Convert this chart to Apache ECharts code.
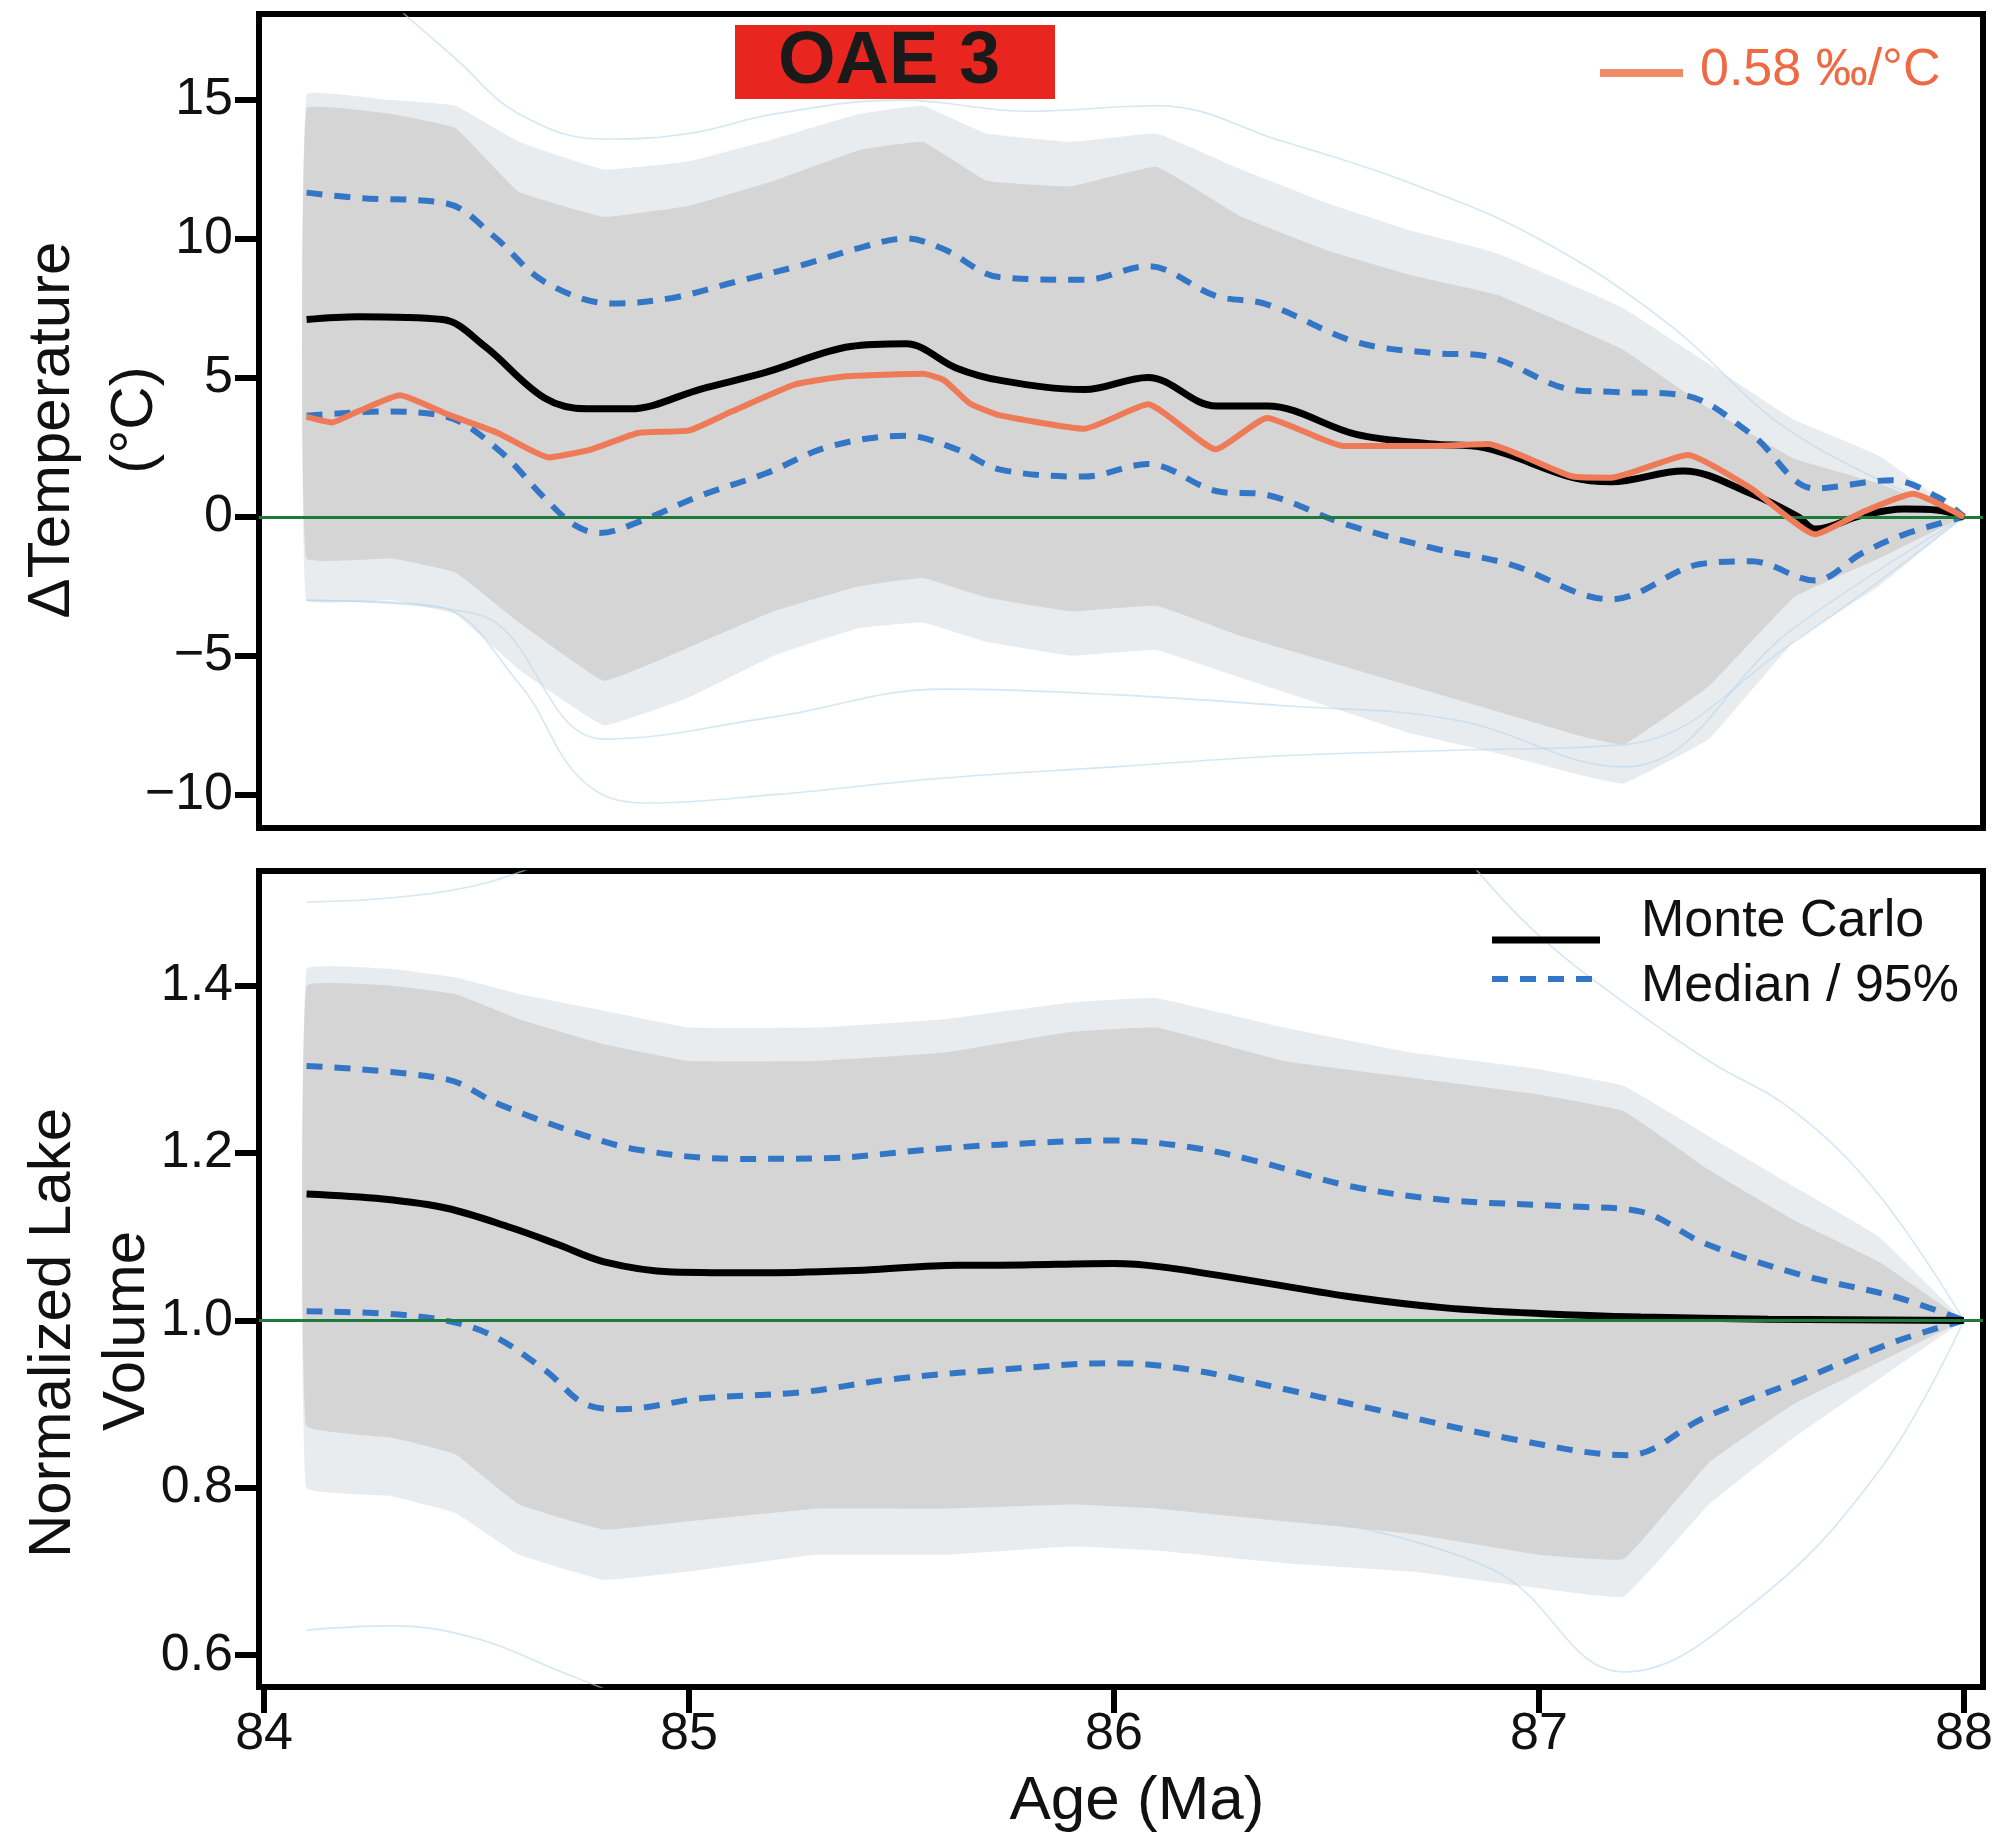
<!DOCTYPE html>
<html>
<head>
<meta charset="utf-8">
<script src="https://cdn.jsdelivr.net/npm/echarts@6/dist/echarts.min.js"></script>
<style>html,body{margin:0;padding:0;background:#fff}#c{width:1997px;height:1844px}</style>
</head>
<body>
<div id="c"></div>
<script>
// ---------- tick labels ----------
const ageTicks = [84, 85, 86, 87, 88];
const tempTicks = [-10, -5, 0, 5, 10, 15];
const volTicks = [0.6, 0.8, 1.0, 1.2, 1.4];

// ---------- top panel: ΔTemperature ----------
const tempMCAge = [84.1, 84.22, 84.42, 84.52, 84.66, 84.76, 84.86, 85.03, 85.18, 85.38, 85.51, 85.63, 85.73, 85.93, 86.08, 86.24, 86.36, 86.57, 86.75, 86.87, 87.08, 87.17, 87.34, 87.5, 87.61, 87.65, 87.76, 87.86, 87.94, 88.0];
const tempMC = [7.1, 7.2, 7.1, 6.13, 4.28, 3.89, 3.89, 4.61, 5.2, 6.13, 6.23, 5.35, 4.92, 4.58, 5.02, 3.99, 3.99, 2.97, 2.62, 2.49, 1.41, 1.26, 1.65, 0.83, 0.0, -0.44, 0.05, 0.28, 0.24, 0.0];

const temp058Age = [84.1, 84.16, 84.22, 84.32, 84.43, 84.55, 84.67, 84.77, 84.88, 85.0, 85.1, 85.25, 85.37, 85.55, 85.6, 85.66, 85.73, 85.93, 86.08, 86.24, 86.36, 86.54, 86.75, 86.88, 87.08, 87.17, 87.35, 87.5, 87.65, 87.76, 87.88, 88.0];
const temp058 = [3.6, 3.4, 3.79, 4.38, 3.7, 3.02, 2.14, 2.43, 3.02, 3.11, 3.79, 4.77, 5.06, 5.15, 4.92, 4.09, 3.66, 3.17, 4.05, 2.43, 3.56, 2.55, 2.55, 2.62, 1.45, 1.41, 2.23, 1.02, -0.63, 0.16, 0.83, 0.0];

const tempHiAge = [84.1, 84.22, 84.43, 84.54, 84.66, 84.82, 84.96, 85.11, 85.26, 85.41, 85.51, 85.6, 85.73, 85.93, 86.08, 86.24, 86.36, 86.57, 86.75, 86.87, 87.08, 87.17, 87.34, 87.5, 87.65, 87.83, 87.94, 88.0];
const tempHi = [11.67, 11.48, 11.28, 10.11, 8.46, 7.68, 7.88, 8.46, 9.04, 9.72, 10.02, 9.63, 8.63, 8.53, 9.02, 7.95, 7.65, 6.29, 5.9, 5.8, 4.57, 4.5, 4.38, 2.97, 1.02, 1.32, 0.7, 0.0];

const tempLoAge = [84.1, 84.28, 84.43, 84.55, 84.66, 84.73, 84.79, 84.88, 85.03, 85.18, 85.33, 85.51, 85.63, 85.73, 85.93, 86.08, 86.24, 86.36, 86.54, 86.75, 86.93, 87.17, 87.38, 87.5, 87.65, 87.76, 87.86, 88.0];
const tempLo = [3.64, 3.79, 3.6, 2.43, 0.68, -0.29, -0.58, -0.19, 0.78, 1.56, 2.53, 2.92, 2.43, 1.71, 1.45, 1.9, 0.93, 0.79, -0.24, -1.12, -1.7, -2.97, -1.7, -1.6, -2.29, -1.31, -0.63, 0.0];

// Monte Carlo ensemble: dense core and sparse outer envelope
const tempBandAge = [84.1, 84.3, 84.45, 84.6, 84.8, 85.0, 85.2, 85.4, 85.55, 85.7, 85.9, 86.1, 86.3, 86.5, 86.7, 86.9, 87.1, 87.2, 87.4, 87.6, 87.8, 88.0];
const tempBandHi = [14.7, 14.5, 14.0, 11.7, 10.8, 11.2, 12.1, 13.2, 13.5, 12.1, 11.9, 12.6, 10.8, 9.6, 8.7, 8.0, 6.7, 6.0, 3.9, 2.1, 1.2, 0.0];
const tempBandLo = [-1.5, -1.5, -2.0, -3.8, -5.9, -4.7, -3.4, -2.5, -2.2, -2.9, -3.4, -3.2, -4.3, -5.2, -6.1, -7.0, -7.9, -8.2, -6.1, -2.9, -1.5, 0.0];
const tempOuterHi = [15.2, 15.0, 14.8, 13.5, 12.5, 12.8, 13.6, 14.5, 14.8, 13.8, 13.5, 13.8, 12.5, 11.3, 10.3, 9.5, 8.2, 7.5, 5.5, 3.5, 2.2, 0.0];
const tempOuterLo = [-3.0, -3.0, -3.5, -5.5, -7.5, -6.5, -5.0, -4.0, -3.8, -4.5, -5.0, -4.8, -5.8, -6.8, -7.8, -8.5, -9.3, -9.6, -8.0, -4.5, -2.5, 0.0];

// a few outlying Monte Carlo runs
const tempOut1Age = [84.1, 84.4, 84.6, 84.75, 84.9, 85.2, 85.6, 86.0, 86.4, 86.8, 87.2, 87.6, 88.0];
const tempOut1 = [-3.0, -3.2, -6.0, -9.5, -10.3, -10.0, -9.4, -9.0, -8.6, -8.4, -8.2, -4.5, 0.0];
const tempOut2Age = [84.1, 84.5, 84.8, 85.2, 85.6, 86.0, 86.4, 86.8, 87.2, 87.6, 88.0];
const tempOut2 = [-3.0, -3.5, -8.0, -7.2, -6.2, -6.4, -6.8, -7.3, -9.0, -4.0, 0.0];
const tempOut3Age = [84.3, 84.45, 84.6, 84.8, 85.0, 85.2, 85.5, 85.8, 86.1, 86.4, 86.7, 87.0, 87.3, 87.6, 88.0];
const tempOut3 = [18.5, 16.5, 14.5, 13.6, 13.8, 14.5, 15.0, 14.6, 14.8, 13.5, 12.0, 10.0, 7.0, 3.0, 0.0];

// ---------- bottom panel: Normalized Lake Volume ----------
const volMCAge = [84.1, 84.28, 84.43, 84.58, 84.69, 84.8, 84.96, 85.18, 85.41, 85.63, 85.73, 86.0, 86.11, 86.33, 86.56, 86.78, 87.01, 87.24, 87.54, 88.0];
const volMC = [1.151, 1.145, 1.134, 1.111, 1.091, 1.070, 1.058, 1.057, 1.060, 1.066, 1.066, 1.068, 1.064, 1.047, 1.028, 1.015, 1.008, 1.004, 1.0015, 1.0];

const volHiAge = [84.1, 84.43, 84.55, 84.73, 84.88, 85.11, 85.33, 85.56, 85.73, 86.0, 86.18, 86.33, 86.56, 86.78, 87.08, 87.24, 87.39, 87.62, 87.84, 88.0];
const volHi = [1.304, 1.288, 1.259, 1.225, 1.204, 1.193, 1.194, 1.204, 1.21, 1.215, 1.207, 1.191, 1.160, 1.144, 1.136, 1.130, 1.092, 1.054, 1.028, 1.0];

const volLoAge = [84.1, 84.36, 84.52, 84.66, 84.76, 84.84, 85.03, 85.26, 85.48, 85.73, 86.0, 86.18, 86.4, 86.63, 86.94, 87.21, 87.39, 87.62, 87.84, 88.0];
const volLo = [1.011, 1.005, 0.986, 0.941, 0.899, 0.894, 0.907, 0.914, 0.93, 0.941, 0.949, 0.941, 0.918, 0.892, 0.858, 0.839, 0.884, 0.930, 0.975, 1.0];

const volBandAge = [84.1, 84.3, 84.45, 84.6, 84.8, 85.0, 85.3, 85.6, 85.9, 86.1, 86.4, 86.7, 87.0, 87.2, 87.4, 87.6, 87.8, 88.0];
const volBandHi = [1.40, 1.40, 1.39, 1.36, 1.33, 1.31, 1.31, 1.32, 1.345, 1.35, 1.31, 1.29, 1.27, 1.25, 1.18, 1.12, 1.07, 1.0];
const volBandLo = [0.874, 0.86, 0.84, 0.78, 0.75, 0.76, 0.775, 0.775, 0.78, 0.775, 0.76, 0.745, 0.72, 0.715, 0.83, 0.90, 0.95, 1.0];
const volOuterHi = [1.42, 1.42, 1.41, 1.39, 1.37, 1.35, 1.35, 1.36, 1.38, 1.385, 1.35, 1.32, 1.30, 1.28, 1.22, 1.16, 1.10, 1.0];
const volOuterLo = [0.80, 0.79, 0.77, 0.72, 0.69, 0.70, 0.72, 0.72, 0.73, 0.725, 0.71, 0.70, 0.68, 0.67, 0.78, 0.86, 0.93, 1.0];

const volOut1Age = [86.85, 87.0, 87.2, 87.4, 87.6, 87.8, 88.0];
const volOut1 = [1.54, 1.46, 1.38, 1.31, 1.25, 1.15, 1.0];
const volOut2Age = [84.1, 84.3, 84.5, 84.7, 84.8];
const volOut2 = [0.63, 0.635, 0.62, 0.58, 0.56];
const volOut3Age = [86.5, 86.9, 87.2, 87.5, 87.8, 88.0];
const volOut3 = [0.76, 0.70, 0.58, 0.66, 0.82, 1.0];
const volOut5Age = [84.1, 84.3, 84.5, 84.65];
const volOut5 = [1.50, 1.505, 1.52, 1.545];

// ---------- helpers ----------
const zip = (a, b) => a.map((x, i) => [x, b[i]]);
const FONT = "'Liberation Sans', Arial, Helvetica, sans-serif";
const X_MIN = 83.988, X_MAX = 88.045;

const chart = echarts.init(document.getElementById('c'), null, { renderer: 'canvas', width: 1997, height: 1844 });

function band(ages, lo, hi, xi, color, z) {
  return {
    type: 'custom', xAxisIndex: xi, yAxisIndex: xi, z: z, silent: true,
    data: ages.map((a, i) => [a, lo[i], hi[i]]),
    encode: { x: 0, y: [1, 2] },
    renderItem: function (params, api) {
      if (params.dataIndex !== 0) return null;
      const top = ages.map((a, i) => api.coord([a, hi[i]]));
      const bot = ages.map((a, i) => api.coord([a, lo[i]])).reverse();
      return { type: 'polygon', shape: { points: top.concat(bot), smooth: 0.08 }, style: { fill: color } };
    }
  };
}
function outlier(ages, vals, xi) {
  return { type: 'line', xAxisIndex: xi, yAxisIndex: xi, data: zip(ages, vals), symbol: 'none', smooth: 0.4,
    lineStyle: { color: '#b9d7ec', width: 1.6, opacity: 0.6 }, z: 2, silent: true };
}
function dashed(ages, vals, xi) {
  return { type: 'line', xAxisIndex: xi, yAxisIndex: xi, data: zip(ages, vals), symbol: 'none', smooth: 0.35,
    lineStyle: { color: '#3476c6', width: 6, type: [16, 12], cap: 'butt' }, z: 3 };
}
function zeroLine(xi, y) {
  return { type: 'line', xAxisIndex: xi, yAxisIndex: xi, data: [], symbol: 'none', z: 8,
    markLine: { silent: true, symbol: 'none', label: { show: false }, animation: false,
      lineStyle: { color: '#1e7a3c', width: 3, type: 'solid' }, data: [{ yAxis: y }] } };
}

const yLabel = { fontSize: 52, color: '#111', fontFamily: FONT, margin: 26 };
const yTick = { show: true, inside: false, length: 24, lineStyle: { color: '#000', width: 6 } };

const option = {
  backgroundColor: '#fff',
  animation: false,
  grid: [
    { left: 259, top: 14, width: 1724, height: 814, show: true, borderColor: '#000', borderWidth: 6, backgroundColor: '#fff' },
    { left: 259, top: 871, width: 1724, height: 816, show: true, borderColor: '#000', borderWidth: 6, backgroundColor: '#fff' }
  ],
  xAxis: [
    { gridIndex: 0, type: 'value', min: X_MIN, max: X_MAX, axisLine: { show: false }, axisTick: { show: false },
      axisLabel: { show: false }, splitLine: { show: false } },
    { gridIndex: 1, type: 'value', min: X_MIN, max: X_MAX, axisLine: { show: false },
      axisTick: { show: true, inside: false, length: 26, customValues: ageTicks, lineStyle: { color: '#000', width: 6 } },
      axisLabel: { customValues: ageTicks, fontSize: 52, color: '#111', fontFamily: FONT, margin: 22 },
      splitLine: { show: false } }
  ],
  yAxis: [
    { gridIndex: 0, type: 'value', min: -11.2, max: 18.1, axisLine: { show: false },
      axisTick: Object.assign({ customValues: tempTicks }, yTick),
      axisLabel: Object.assign({ customValues: tempTicks, formatter: v => (v < 0 ? '\u2212' + Math.abs(v) : String(v)) }, yLabel),
      splitLine: { show: false } },
    { gridIndex: 1, type: 'value', min: 0.562, max: 1.537, axisLine: { show: false },
      axisTick: Object.assign({ customValues: volTicks }, yTick),
      axisLabel: Object.assign({ customValues: volTicks, formatter: v => Number(v).toFixed(1) }, yLabel),
      splitLine: { show: false } }
  ],
  series: [
    band(tempBandAge, tempOuterLo, tempOuterHi, 0, '#e9ecef', 1),
    band(tempBandAge, tempBandLo, tempBandHi, 0, '#d5d5d5', 1),
    outlier(tempOut1Age, tempOut1, 0),
    outlier(tempOut2Age, tempOut2, 0),
    outlier(tempOut3Age, tempOut3, 0),
    dashed(tempHiAge, tempHi, 0),
    dashed(tempLoAge, tempLo, 0),
    { type: 'line', xAxisIndex: 0, yAxisIndex: 0, data: zip(tempMCAge, tempMC), symbol: 'none', smooth: 0.35,
      lineStyle: { color: '#000', width: 7 }, z: 4 },
    { type: 'line', xAxisIndex: 0, yAxisIndex: 0, data: zip(temp058Age, temp058), symbol: 'none', smooth: 0.15,
      lineStyle: { color: '#ef7a57', width: 6 }, z: 5 },
    zeroLine(0, 0),

    band(volBandAge, volOuterLo, volOuterHi, 1, '#e9ecef', 1),
    band(volBandAge, volBandLo, volBandHi, 1, '#d5d5d5', 1),
    outlier(volOut1Age, volOut1, 1),
    outlier(volOut2Age, volOut2, 1),
    outlier(volOut3Age, volOut3, 1),
    outlier(volOut5Age, volOut5, 1),
    dashed(volHiAge, volHi, 1),
    dashed(volLoAge, volLo, 1),
    { type: 'line', xAxisIndex: 1, yAxisIndex: 1, data: zip(volMCAge, volMC), symbol: 'none', smooth: 0.35,
      lineStyle: { color: '#000', width: 7 }, z: 4 },
    zeroLine(1, 1.0)
  ],
  graphic: [
    { type: 'rect', shape: { x: 735, y: 25, width: 320, height: 74 }, style: { fill: '#e8251f' }, z: 100 },
    { type: 'text', x: 889, y: 63, z: 101, style: { text: 'OAE 3', font: 'bold 74px ' + FONT, fill: '#1a1a1a', textAlign: 'center', textVerticalAlign: 'middle' } },
    { type: 'line', shape: { x1: 1600, y1: 73, x2: 1683, y2: 73 }, style: { stroke: '#f08a68', lineWidth: 8 }, z: 100 },
    { type: 'text', x: 1700, y: 71, z: 101, style: { text: '0.58 \u2030/\u00B0C', font: '52px ' + FONT, fill: '#ee6a45', textAlign: 'left', textVerticalAlign: 'middle' } },
    { type: 'line', shape: { x1: 1492, y1: 940, x2: 1600, y2: 940 }, style: { stroke: '#000', lineWidth: 7 }, z: 100 },
    { type: 'line', shape: { x1: 1492, y1: 979, x2: 1600, y2: 979 }, style: { stroke: '#3476c6', lineWidth: 6, lineDash: [16, 12] }, z: 100 },
    { type: 'text', x: 1641, y: 922, z: 101, style: { text: 'Monte Carlo', font: '52px ' + FONT, fill: '#111', textAlign: 'left', textVerticalAlign: 'middle' } },
    { type: 'text', x: 1641, y: 987, z: 101, style: { text: 'Median / 95%', font: '52px ' + FONT, fill: '#111', textAlign: 'left', textVerticalAlign: 'middle' } },
    { type: 'text', x: 52, y: 430, rotation: Math.PI / 2, z: 101, style: { text: '\u0394Temperature', font: '60px ' + FONT, fill: '#111', textAlign: 'center', textVerticalAlign: 'middle' } },
    { type: 'text', x: 135, y: 420, rotation: Math.PI / 2, z: 101, style: { text: '(\u00B0C)', font: '60px ' + FONT, fill: '#111', textAlign: 'center', textVerticalAlign: 'middle' } },
    { type: 'text', x: 53, y: 1333, rotation: Math.PI / 2, z: 101, style: { text: 'Normalized Lake', font: '60px ' + FONT, fill: '#111', textAlign: 'center', textVerticalAlign: 'middle' } },
    { type: 'text', x: 127, y: 1331, rotation: Math.PI / 2, z: 101, style: { text: 'Volume', font: '60px ' + FONT, fill: '#111', textAlign: 'center', textVerticalAlign: 'middle' } },
    { type: 'text', x: 1137, y: 1802, z: 101, style: { text: 'Age (Ma)', font: '62px ' + FONT, fill: '#111', textAlign: 'center', textVerticalAlign: 'middle' } }
  ]
};
chart.setOption(option);
</script>
</body>
</html>
